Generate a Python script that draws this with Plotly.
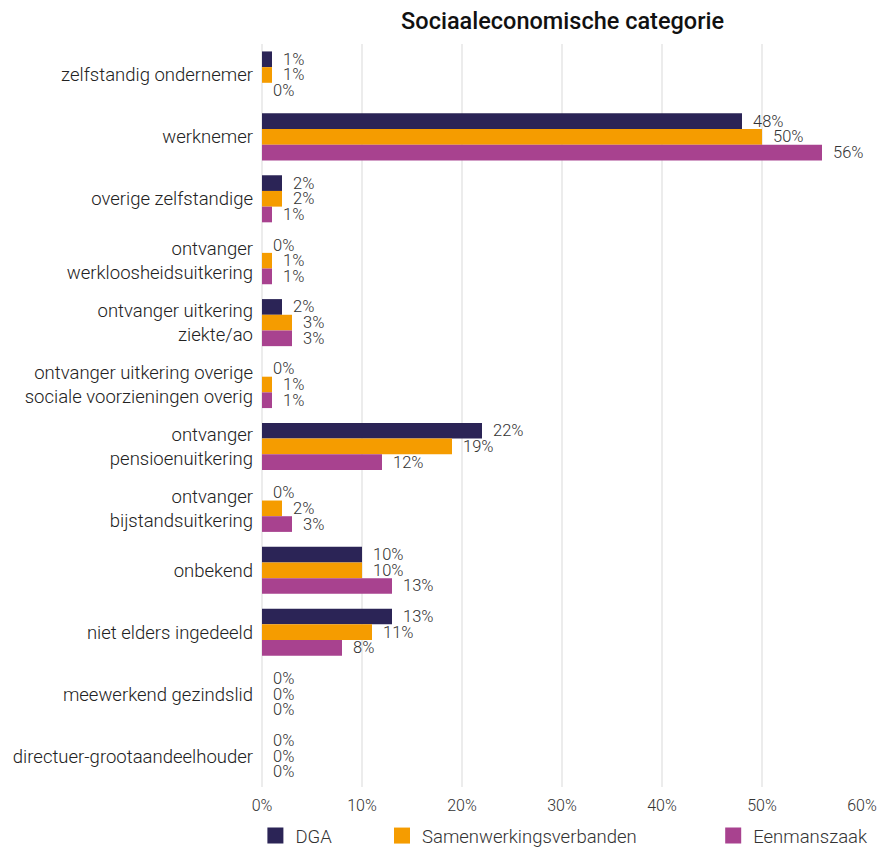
import plotly.graph_objects as go

categories = [
    "zelfstandig ondernemer",
    "werknemer",
    "overige zelfstandige",
    "ontvanger<br>werkloosheidsuitkering",
    "ontvanger uitkering<br>ziekte/ao",
    "ontvanger uitkering overige<br>sociale voorzieningen overig",
    "ontvanger<br>pensioenuitkering",
    "ontvanger<br>bijstandsuitkering",
    "onbekend",
    "niet elders ingedeeld",
    "meewerkend gezindslid",
    "directuer-grootaandeelhouder",
]

dga = [1, 48, 2, 0, 2, 0, 22, 0, 10, 13, 0, 0]
samenwerkingsverbanden = [1, 50, 2, 1, 3, 1, 19, 2, 10, 11, 0, 0]
eenmanszaak = [0, 56, 1, 1, 3, 1, 12, 3, 13, 8, 0, 0]

series = [
    ("DGA", dga, "#2b2456", "legend", -0.011),
    ("Samenwerkingsverbanden", samenwerkingsverbanden, "#f59c00", "legend2", 0.2,),
    ("Eenmanszaak", eenmanszaak, "#a8428f", "legend3", 0.752),
]

font_family = "Roboto Light, Roboto, sans-serif"
text_color = "#333333"

fig = go.Figure()
for name, vals, color, leg, _ in series:
    fig.add_trace(go.Bar(
        name=name,
        y=categories,
        x=vals,
        orientation="h",
        marker=dict(color=color, line=dict(width=0)),
        text=[f"  {v}%" for v in vals],
        textposition="outside",
        constraintext="none",
        textfont=dict(family=font_family, size=16.5, color=text_color),
        cliponaxis=False,
        showlegend=False,
    ))

# square legend keys
for name, vals, color, leg, _ in series:
    fig.add_trace(go.Scatter(
        name=name,
        x=[None],
        y=[None],
        mode="markers",
        marker=dict(symbol="square", size=16, color=color, line=dict(width=0)),
        legend=leg,
        showlegend=True,
        hoverinfo="skip",
    ))

legend_common = dict(
    orientation="h",
    yanchor="middle",
    y=-0.066,
    xanchor="left",
    font=dict(family=font_family, size=18.5, color=text_color),
    bgcolor="rgba(0,0,0,0)",
    itemwidth=30,
    itemsizing="trace",
)

layout_legends = {}
for name, vals, color, leg, xpos in series:
    layout_legends[leg] = dict(legend_common, x=xpos)

fig.update_layout(
    width=879,
    height=848,
    margin=dict(l=262, r=17, t=44, b=61, autoexpand=False),
    plot_bgcolor="white",
    paper_bgcolor="white",
    barmode="group",
    bargap=0.24,
    bargroupgap=0,
    showlegend=True,
    title=dict(
        text="Sociaaleconomische categorie",
        x=0.64,
        xanchor="center",
        y=0.976,
        yanchor="middle",
        font=dict(family="Roboto, sans-serif", size=23.5, color="#111111", weight=500),
    ),
    xaxis=dict(
        range=[0, 60],
        tickvals=[0, 10, 20, 30, 40, 50, 60],
        ticktext=["0%", "10%", "20%", "30%", "40%", "50%", "60%"],
        showgrid=True,
        gridcolor="#ececec",
        gridwidth=2,
        zeroline=True,
        zerolinecolor="#ececec",
        zerolinewidth=2,
        showline=False,
        ticks="",
        ticklabelstandoff=7,
        tickfont=dict(family=font_family, size=16, color=text_color),
        fixedrange=True,
    ),
    yaxis=dict(
        autorange="reversed",
        showgrid=False,
        ticks="",
        ticklabelstandoff=8,
        tickfont=dict(family=font_family, size=18.5, color="#222222"),
        fixedrange=True,
    ),
    **layout_legends,
)

fig.write_html("out.html")
